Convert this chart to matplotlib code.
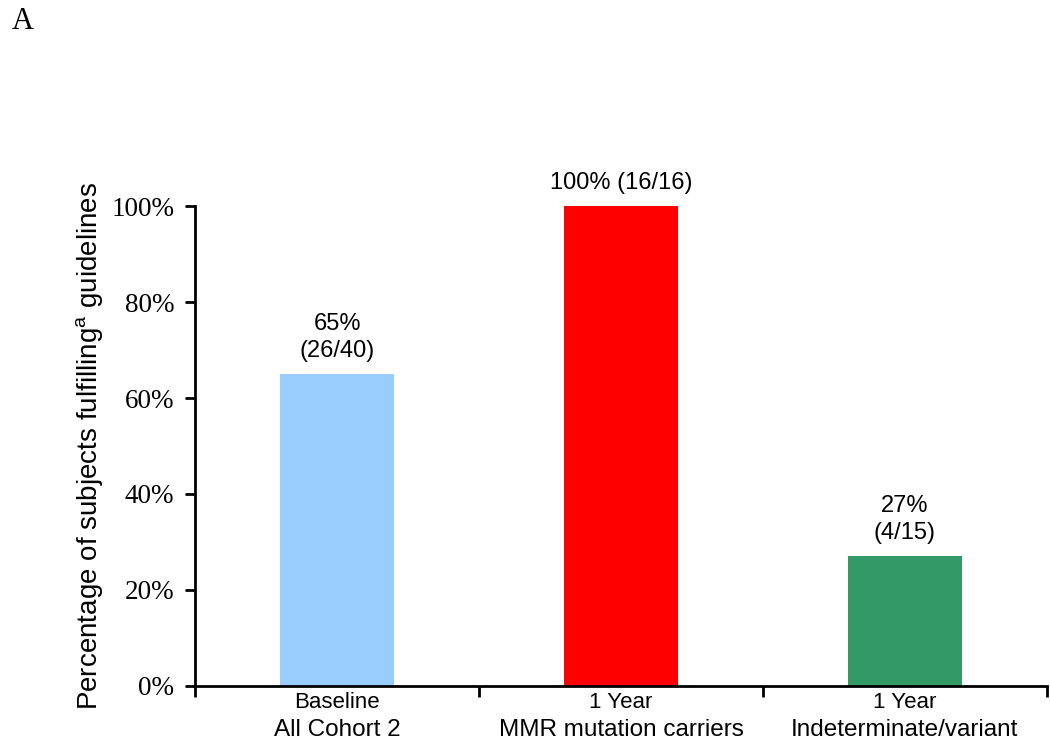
import matplotlib.pyplot as plt
from matplotlib.ticker import FuncFormatter

plt.rcParams['font.family'] = ['Liberation Sans', 'DejaVu Sans']
plt.rcParams['mathtext.fontset'] = 'custom'
plt.rcParams['mathtext.rm'] = 'Liberation Sans'

groups = ["Baseline", "1 Year", "1 Year"]
subgroups = ["All Cohort 2", "MMR mutation carriers", "Indeterminate/variant"]
pct = [65, 100, 27]
bar_labels = ["65%\n(26/40)", "100% (16/16)", "27%\n(4/15)"]
colors = ["#99CCFF", "#FF0000", "#339966"]

fig = plt.figure(figsize=(10.5, 7.4), dpi=100)
ax = fig.add_axes([0.186, 0.073, 0.811, 0.6486])

x = list(range(len(pct)))
ax.bar(x, [p / 100 for p in pct], width=0.4, color=colors)

for i, p in enumerate(pct):
    ax.text(i, p / 100 + 0.025, bar_labels[i], ha='center', va='bottom',
            fontsize=17, linespacing=1.3)

ax.set_xlim(-0.5, 2.5)
ax.set_ylim(0, 1)
ax.set_yticks([0, 0.2, 0.4, 0.6, 0.8, 1.0])
ax.yaxis.set_major_formatter(FuncFormatter(lambda v, _: f"{v*100:.0f}%"))
for lab in ax.get_yticklabels():
    lab.set_fontfamily('Liberation Serif')
    lab.set_fontsize(19.5)
ax.tick_params(axis='y', direction='out', length=7, width=2, pad=8)

ax.set_xticks(x)
ax.set_xticklabels([""] * 3)
ax.set_xticks([-0.5, 0.5, 1.5, 2.5], minor=True)
ax.tick_params(axis='x', which='major', length=0)
ax.tick_params(axis='x', which='minor', direction='out', length=8, width=2)
for i in x:
    ax.text(i, -0.012, groups[i], transform=ax.get_xaxis_transform(),
            ha='center', va='top', fontsize=16)
    ax.text(i, -0.104, subgroups[i], transform=ax.get_xaxis_transform(),
            ha='center', va='baseline', fontsize=17.5)

for s in ['top', 'right']:
    ax.spines[s].set_visible(False)
for s in ['left', 'bottom']:
    ax.spines[s].set_linewidth(2)

ax.set_ylabel("Percentage of subjects fulfilling$^{\\rm a}$ guidelines",
              fontsize=20, labelpad=4)

fig.text(0.011, 0.99, "A", fontfamily='Liberation Serif', fontsize=22,
         ha='left', va='top')

fig.savefig("out.png", dpi=100)
